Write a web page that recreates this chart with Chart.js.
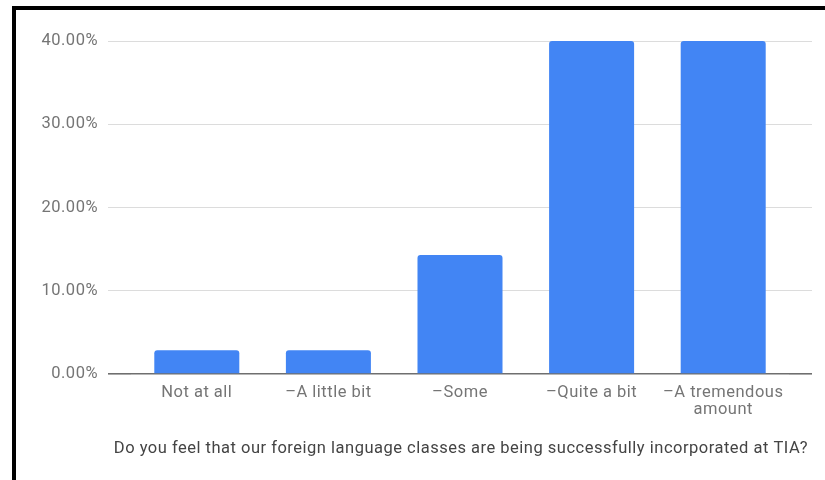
<!DOCTYPE html>
<html>
<head>
<meta charset="utf-8">
<script src="https://cdn.jsdelivr.net/npm/chart.js@4/dist/chart.umd.min.js"></script>
<style>
  html, body { margin: 0; padding: 0; background: #fff; }
  #wrap { position: relative; width: 825px; height: 480px; }
  #frame {
    position: absolute; left: 12px; top: 6px; right: 0; bottom: 0;
    border-top: 4px solid #000; border-left: 4px solid #000;
    pointer-events: none;
  }
</style>
</head>
<body>
<div id="wrap">
  <canvas id="chart" width="825" height="480"></canvas>
  <div id="frame"></div>
</div>
<script>
// Respuestas de la encuesta (porcentaje del total)
const categorias = ['Not at all', '–A little bit', '–Some', '–Quite a bit', ['–A tremendous', 'amount']];
const porcentajes = [0.0286, 0.0286, 0.1429, 0.40, 0.40];
const pregunta = 'Do you feel that our foreign language classes are being successfully incorporated at TIA?';
const ejeY = { min: 0, max: 0.4, paso: 0.1 };

const gris = '#757575';
const colorGrid = ctx => (ctx.tick && ctx.tick.value === 0) ? '#6f6f6f' : '#dcdcdc';
const anchoGrid = ctx => (ctx.tick && ctx.tick.value === 0) ? 1.6 : 1;

// un poco de espacio entre letras para que el texto quede mas ancho
const espaciado = {
    id: 'espaciado',
    beforeDraw: chart => { chart.ctx.letterSpacing = '0.5px'; }
};

new Chart(document.getElementById('chart'), {
    type: 'bar',
    data: {
        labels: categorias,
        datasets: [{
            data: porcentajes,
            backgroundColor: '#4285f4',
            borderRadius: 3,
            categoryPercentage: 1,
            barPercentage: 0.646
        }]
    },
    plugins: [espaciado],
    options: {
        responsive: false,
        animation: false,
        layout: { padding: { left: 30, right: 17, top: 41, bottom: 0 } },
        plugins: {
            legend: { display: false },
            tooltip: { enabled: false },
            // la pregunta va abajo como titulo del grafico
            title: {
                display: true,
                position: 'bottom',
                align: 'end',
                text: pregunta,
                color: '#444',
                padding: { top: 6.5, bottom: 21.7 },
                font: { family: 'Roboto', size: 16.5, weight: 'normal' }
            }
        },
        scales: {
            x: {
                grid: { display: false },
                border: { display: false },
                ticks: {
                    color: gris,
                    padding: 3,
                    maxRotation: 0,
                    font: { family: 'Roboto', size: 16.5, lineHeight: 1 }
                },
                afterFit: s => { s.height = 58; }
            },
            y: {
                min: ejeY.min,
                max: ejeY.max,
                border: { display: false },
                grid: { color: colorGrid, lineWidth: anchoGrid, tickLength: 23 },
                ticks: {
                    stepSize: ejeY.paso,
                    color: gris,
                    padding: 10,
                    font: { family: 'Roboto', size: 16.5 },
                    callback: v => (v * 100).toFixed(2) + '%'
                },
                afterFit: s => { s.width = 101; }
            },
            // eje derecho solo para alargar las lineas de la cuadricula
            y2: {
                position: 'right',
                min: ejeY.min,
                max: ejeY.max,
                border: { display: false },
                grid: { color: colorGrid, lineWidth: anchoGrid, tickLength: 23, drawOnChartArea: false },
                ticks: { stepSize: ejeY.paso, display: false },
                afterFit: s => { s.width = 19; }
            }
        }
    }
});
</script>
</body>
</html>
